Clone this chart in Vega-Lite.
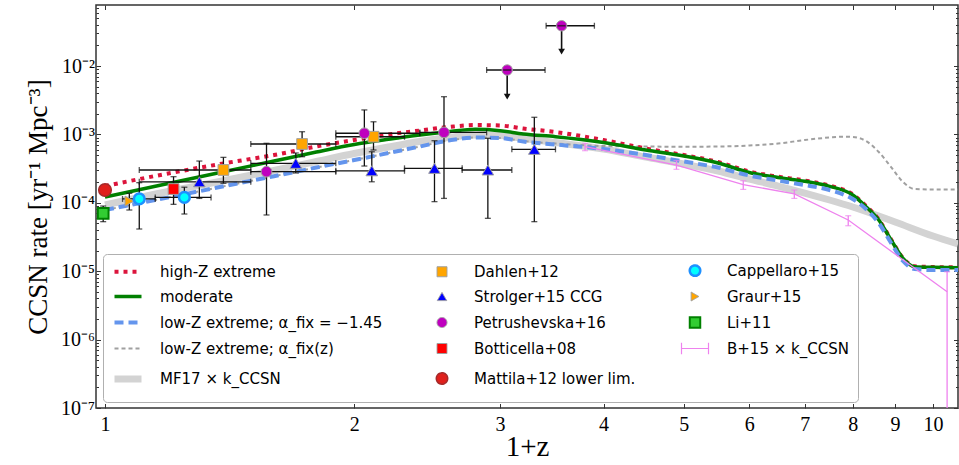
{
  "$schema": "https://vega.github.io/schema/vega-lite/v6.json",
  "width": 862,
  "height": 403,
  "autosize": {"type": "none"},
  "padding": {"left": 96, "top": 5, "right": 1, "bottom": 57},
  "background": "white",
  "config": {
    "view": {"stroke": "#333333", "strokeWidth": 1.5},
    "axis": {"grid": false, "domain": false, "tickColor": "#333333", "tickWidth": 1, "labelColor": "black", "titleColor": "black", "labelFont": "Liberation Serif", "titleFont": "Liberation Serif", "titleFontWeight": "normal"},
    "legend": {
      "orient": "none", "legendX": 7, "legendY": 249, "columns": 3, "columnPadding": 43, "rowPadding": 8, "padding": 9,
      "strokeColor": "#b0b0b0", "fillColor": "white", "cornerRadius": 4,
      "labelFont": "DejaVu Sans", "labelFontSize": 15, "labelColor": "black", "labelLimit": 500,
      "labelOffset": 24, "symbolOffset": 8
    }
  },
  "datasets": {
    "curves": [
      {"series": "high-Z extreme", "x": 1.0, "y": 1.760e-4},
      {"series": "high-Z extreme", "x": 1.2, "y": 2.727e-4},
      {"series": "high-Z extreme", "x": 1.4, "y": 3.818e-4},
      {"series": "high-Z extreme", "x": 1.6, "y": 4.998e-4},
      {"series": "high-Z extreme", "x": 1.8, "y": 6.653e-4},
      {"series": "high-Z extreme", "x": 2.0, "y": 8.282e-4},
      {"series": "high-Z extreme", "x": 2.2, "y": 9.966e-4},
      {"series": "high-Z extreme", "x": 2.4, "y": 1.140e-3},
      {"series": "high-Z extreme", "x": 2.6, "y": 1.283e-3},
      {"series": "high-Z extreme", "x": 2.8, "y": 1.372e-3},
      {"series": "high-Z extreme", "x": 3.0, "y": 1.349e-3},
      {"series": "high-Z extreme", "x": 3.2, "y": 1.220e-3},
      {"series": "high-Z extreme", "x": 3.5, "y": 1.084e-3},
      {"series": "high-Z extreme", "x": 4.0, "y": 8.282e-4},
      {"series": "high-Z extreme", "x": 4.5, "y": 6.220e-4},
      {"series": "high-Z extreme", "x": 5.0, "y": 4.998e-4},
      {"series": "high-Z extreme", "x": 5.5, "y": 3.949e-4},
      {"series": "high-Z extreme", "x": 6.0, "y": 2.868e-4},
      {"series": "high-Z extreme", "x": 6.5, "y": 2.408e-4},
      {"series": "high-Z extreme", "x": 7.0, "y": 2.118e-4},
      {"series": "high-Z extreme", "x": 7.5, "y": 1.790e-4},
      {"series": "high-Z extreme", "x": 8.0, "y": 1.331e-4},
      {"series": "high-Z extreme", "x": 8.3, "y": 8.98e-5},
      {"series": "high-Z extreme", "x": 8.6, "y": 5.70e-5},
      {"series": "high-Z extreme", "x": 8.9, "y": 2.907e-5},
      {"series": "high-Z extreme", "x": 9.2, "y": 1.560e-5},
      {"series": "high-Z extreme", "x": 9.5, "y": 1.179e-5},
      {"series": "high-Z extreme", "x": 10.0, "y": 1.151e-5},
      {"series": "high-Z extreme", "x": 10.72, "y": 1.140e-5},
      {"series": "moderate", "x": 1.0, "y": 1.216e-4},
      {"series": "moderate", "x": 1.2, "y": 1.948e-4},
      {"series": "moderate", "x": 1.4, "y": 2.897e-4},
      {"series": "moderate", "x": 1.6, "y": 4.083e-4},
      {"series": "moderate", "x": 1.8, "y": 5.528e-4},
      {"series": "moderate", "x": 2.0, "y": 7.117e-4},
      {"series": "moderate", "x": 2.2, "y": 8.482e-4},
      {"series": "moderate", "x": 2.4, "y": 9.800e-4},
      {"series": "moderate", "x": 2.6, "y": 1.095e-3},
      {"series": "moderate", "x": 2.8, "y": 1.188e-3},
      {"series": "moderate", "x": 3.0, "y": 1.133e-3},
      {"series": "moderate", "x": 3.2, "y": 1.013e-3},
      {"series": "moderate", "x": 3.5, "y": 9.254e-4},
      {"series": "moderate", "x": 4.0, "y": 7.612e-4},
      {"series": "moderate", "x": 4.5, "y": 5.913e-4},
      {"series": "moderate", "x": 5.0, "y": 4.832e-4},
      {"series": "moderate", "x": 5.5, "y": 3.818e-4},
      {"series": "moderate", "x": 6.0, "y": 2.773e-4},
      {"series": "moderate", "x": 6.5, "y": 2.344e-4},
      {"series": "moderate", "x": 7.0, "y": 2.062e-4},
      {"series": "moderate", "x": 7.5, "y": 1.742e-4},
      {"series": "moderate", "x": 8.0, "y": 1.300e-4},
      {"series": "moderate", "x": 8.3, "y": 8.77e-5},
      {"series": "moderate", "x": 8.6, "y": 5.603e-5},
      {"series": "moderate", "x": 8.9, "y": 2.858e-5},
      {"series": "moderate", "x": 9.2, "y": 1.544e-5},
      {"series": "moderate", "x": 9.5, "y": 1.163e-5},
      {"series": "moderate", "x": 10.0, "y": 1.14e-5},
      {"series": "moderate", "x": 10.72, "y": 1.125e-5},
      {"series": "low-Z extreme; α_fix = −1.45", "x": 1.0, "y": 7.847e-5},
      {"series": "low-Z extreme; α_fix = −1.45", "x": 1.2, "y": 1.216e-4},
      {"series": "low-Z extreme; α_fix = −1.45", "x": 1.4, "y": 1.772e-4},
      {"series": "low-Z extreme; α_fix = −1.45", "x": 1.6, "y": 2.448e-4},
      {"series": "low-Z extreme; α_fix = −1.45", "x": 1.8, "y": 3.281e-4},
      {"series": "low-Z extreme; α_fix = −1.45", "x": 2.0, "y": 4.223e-4},
      {"series": "low-Z extreme; α_fix = −1.45", "x": 2.2, "y": 5.345e-4},
      {"series": "low-Z extreme; α_fix = −1.45", "x": 2.4, "y": 6.653e-4},
      {"series": "low-Z extreme; α_fix = −1.45", "x": 2.6, "y": 8.144e-4},
      {"series": "low-Z extreme; α_fix = −1.45", "x": 2.8, "y": 9.009e-4},
      {"series": "low-Z extreme; α_fix = −1.45", "x": 3.0, "y": 8.858e-4},
      {"series": "low-Z extreme; α_fix = −1.45", "x": 3.2, "y": 7.872e-4},
      {"series": "low-Z extreme; α_fix = −1.45", "x": 3.5, "y": 7.117e-4},
      {"series": "low-Z extreme; α_fix = −1.45", "x": 4.0, "y": 6.116e-4},
      {"series": "low-Z extreme; α_fix = −1.45", "x": 4.5, "y": 4.998e-4},
      {"series": "low-Z extreme; α_fix = −1.45", "x": 5.0, "y": 4.016e-4},
      {"series": "low-Z extreme; α_fix = −1.45", "x": 5.5, "y": 3.281e-4},
      {"series": "low-Z extreme; α_fix = −1.45", "x": 6.0, "y": 2.507e-4},
      {"series": "low-Z extreme; α_fix = −1.45", "x": 6.5, "y": 2.118e-4},
      {"series": "low-Z extreme; α_fix = −1.45", "x": 7.0, "y": 1.820e-4},
      {"series": "low-Z extreme; α_fix = −1.45", "x": 7.5, "y": 1.538e-4},
      {"series": "low-Z extreme; α_fix = −1.45", "x": 8.0, "y": 1.136e-4},
      {"series": "low-Z extreme; α_fix = −1.45", "x": 8.3, "y": 8.117e-5},
      {"series": "low-Z extreme; α_fix = −1.45", "x": 8.6, "y": 5.066e-5},
      {"series": "low-Z extreme; α_fix = −1.45", "x": 8.9, "y": 2.584e-5},
      {"series": "low-Z extreme; α_fix = −1.45", "x": 9.2, "y": 1.409e-5},
      {"series": "low-Z extreme; α_fix = −1.45", "x": 9.5, "y": 1.077e-5},
      {"series": "low-Z extreme; α_fix = −1.45", "x": 10.0, "y": 1.041e-5},
      {"series": "low-Z extreme; α_fix = −1.45", "x": 10.72, "y": 1.041e-5},
      {"series": "low-Z extreme; α_fix(z)", "x": 1.0, "y": 7.847e-5},
      {"series": "low-Z extreme; α_fix(z)", "x": 1.2, "y": 1.216e-4},
      {"series": "low-Z extreme; α_fix(z)", "x": 1.4, "y": 1.772e-4},
      {"series": "low-Z extreme; α_fix(z)", "x": 1.6, "y": 2.448e-4},
      {"series": "low-Z extreme; α_fix(z)", "x": 1.8, "y": 3.281e-4},
      {"series": "low-Z extreme; α_fix(z)", "x": 2.0, "y": 4.223e-4},
      {"series": "low-Z extreme; α_fix(z)", "x": 2.2, "y": 5.345e-4},
      {"series": "low-Z extreme; α_fix(z)", "x": 2.4, "y": 6.653e-4},
      {"series": "low-Z extreme; α_fix(z)", "x": 2.6, "y": 8.144e-4},
      {"series": "low-Z extreme; α_fix(z)", "x": 2.8, "y": 9.009e-4},
      {"series": "low-Z extreme; α_fix(z)", "x": 3.0, "y": 8.858e-4},
      {"series": "low-Z extreme; α_fix(z)", "x": 3.2, "y": 8.006e-4},
      {"series": "low-Z extreme; α_fix(z)", "x": 3.5, "y": 7.361e-4},
      {"series": "low-Z extreme; α_fix(z)", "x": 4.0, "y": 6.766e-4},
      {"series": "low-Z extreme; α_fix(z)", "x": 4.5, "y": 6.653e-4},
      {"series": "low-Z extreme; α_fix(z)", "x": 5.0, "y": 6.609e-4},
      {"series": "low-Z extreme; α_fix(z)", "x": 5.5, "y": 6.653e-4},
      {"series": "low-Z extreme; α_fix(z)", "x": 6.0, "y": 6.881e-4},
      {"series": "low-Z extreme; α_fix(z)", "x": 6.5, "y": 7.361e-4},
      {"series": "low-Z extreme; α_fix(z)", "x": 7.0, "y": 8.282e-4},
      {"series": "low-Z extreme; α_fix(z)", "x": 7.5, "y": 9.009e-4},
      {"series": "low-Z extreme; α_fix(z)", "x": 7.8, "y": 9.254e-4},
      {"series": "low-Z extreme; α_fix(z)", "x": 8.0, "y": 9.16e-4},
      {"series": "low-Z extreme; α_fix(z)", "x": 8.3, "y": 8.006e-4},
      {"series": "low-Z extreme; α_fix(z)", "x": 8.6, "y": 5.528e-4},
      {"series": "low-Z extreme; α_fix(z)", "x": 8.9, "y": 3.337e-4},
      {"series": "low-Z extreme; α_fix(z)", "x": 9.2, "y": 2.014e-4},
      {"series": "low-Z extreme; α_fix(z)", "x": 9.5, "y": 1.591e-4},
      {"series": "low-Z extreme; α_fix(z)", "x": 10.0, "y": 1.565e-4},
      {"series": "low-Z extreme; α_fix(z)", "x": 10.72, "y": 1.565e-4},
      {"series": "MF17 × k_CCSN", "x": 1.0, "y": 9.286e-5},
      {"series": "MF17 × k_CCSN", "x": 1.2, "y": 1.488e-4},
      {"series": "MF17 × k_CCSN", "x": 1.4, "y": 2.133e-4},
      {"series": "MF17 × k_CCSN", "x": 1.6, "y": 2.977e-4},
      {"series": "MF17 × k_CCSN", "x": 1.8, "y": 4.016e-4},
      {"series": "MF17 × k_CCSN", "x": 2.0, "y": 5.256e-4},
      {"series": "MF17 × k_CCSN", "x": 2.2, "y": 6.543e-4},
      {"series": "MF17 × k_CCSN", "x": 2.4, "y": 7.872e-4},
      {"series": "MF17 × k_CCSN", "x": 2.6, "y": 9.009e-4},
      {"series": "MF17 × k_CCSN", "x": 2.8, "y": 9.800e-4},
      {"series": "MF17 × k_CCSN", "x": 3.0, "y": 9.636e-4},
      {"series": "MF17 × k_CCSN", "x": 3.2, "y": 8.711e-4},
      {"series": "MF17 × k_CCSN", "x": 3.5, "y": 7.612e-4},
      {"series": "MF17 × k_CCSN", "x": 4.0, "y": 6.116e-4},
      {"series": "MF17 × k_CCSN", "x": 4.5, "y": 4.673e-4},
      {"series": "MF17 × k_CCSN", "x": 5.0, "y": 3.692e-4},
      {"series": "MF17 × k_CCSN", "x": 5.5, "y": 2.917e-4},
      {"series": "MF17 × k_CCSN", "x": 6.0, "y": 2.228e-4},
      {"series": "MF17 × k_CCSN", "x": 6.5, "y": 1.760e-4},
      {"series": "MF17 × k_CCSN", "x": 7.0, "y": 1.390e-4},
      {"series": "MF17 × k_CCSN", "x": 7.5, "y": 1.099e-4},
      {"series": "MF17 × k_CCSN", "x": 8.0, "y": 8.68e-5},
      {"series": "MF17 × k_CCSN", "x": 9.0, "y": 5.24e-5},
      {"series": "MF17 × k_CCSN", "x": 10.0, "y": 3.27e-5},
      {"series": "MF17 × k_CCSN", "x": 10.72, "y": 2.5e-5}
    ],
    "points": [
      {"series": "Li+11", "x": 0.995, "y": 7.0e-5, "xlo": null, "xhi": null, "ylo": 5.3e-5, "yhi": 8.97e-5},
      {"series": "Mattila+12 lower lim.", "x": 1.0, "y": 1.54e-4, "xlo": null, "xhi": null, "ylo": null, "yhi": null},
      {"series": "Graur+15", "x": 1.07, "y": 1.06e-4, "xlo": null, "xhi": null, "ylo": 7.85e-5, "yhi": 1.38e-4},
      {"series": "Cappellaro+15", "x": 1.10, "y": 1.14e-4, "xlo": 1.05, "xhi": 1.15, "ylo": 4.14e-5, "yhi": 1.97e-4},
      {"series": "Cappellaro+15", "x": 1.247, "y": 1.20e-4, "xlo": 1.15, "xhi": 1.343, "ylo": 6.86e-5, "yhi": 1.69e-4},
      {"series": "Botticella+08", "x": 1.21, "y": 1.59e-4, "xlo": null, "xhi": null, "ylo": 9.5e-5, "yhi": 2.41e-4},
      {"series": "Strolger+15 CCG", "x": 1.3, "y": 2.03e-4, "xlo": 1.1, "xhi": 1.5, "ylo": 1.16e-4, "yhi": 4.08e-4},
      {"series": "Strolger+15 CCG", "x": 1.7, "y": 3.78e-4, "xlo": 1.5, "xhi": 1.9, "ylo": 2.73e-4, "yhi": 5.35e-4},
      {"series": "Strolger+15 CCG", "x": 2.1, "y": 2.94e-4, "xlo": 1.9, "xhi": 2.3, "ylo": 2.03e-4, "yhi": 5.58e-4},
      {"series": "Strolger+15 CCG", "x": 2.5, "y": 3.19e-4, "xlo": 2.3, "xhi": 2.7, "ylo": 1.04e-4, "yhi": 8.09e-4},
      {"series": "Strolger+15 CCG", "x": 2.9, "y": 3.02e-4, "xlo": 2.7, "xhi": 3.1, "ylo": 5.93e-5, "yhi": 8.77e-4},
      {"series": "Strolger+15 CCG", "x": 3.3, "y": 6.05e-4, "xlo": 3.1, "xhi": 3.5, "ylo": 5.30e-5, "yhi": 1.78e-3},
      {"series": "Petrushevska+16", "x": 1.567, "y": 2.85e-4, "xlo": 1.5, "xhi": 1.9, "ylo": 6.64e-5, "yhi": 7.41e-4},
      {"series": "Petrushevska+16", "x": 2.057, "y": 1.04e-3, "xlo": 1.9, "xhi": 2.4, "ylo": 3.45e-4, "yhi": 2.28e-3},
      {"series": "Petrushevska+16", "x": 2.567, "y": 1.07e-3, "xlo": 2.4, "xhi": 2.89, "ylo": 1.16e-4, "yhi": 3.56e-3},
      {"series": "Dahlen+12", "x": 1.39, "y": 3.02e-4, "xlo": 1.1, "xhi": 1.5, "ylo": 1.93e-4, "yhi": 4.62e-4},
      {"series": "Dahlen+12", "x": 1.73, "y": 7.24e-4, "xlo": 1.5, "xhi": 1.9, "ylo": 4.72e-4, "yhi": 1.095e-3},
      {"series": "Dahlen+12", "x": 2.11, "y": 9.25e-4, "xlo": 1.9, "xhi": 2.3, "ylo": 5.92e-4, "yhi": 1.53e-3}
    ],
    "limits": [
      {"x": 3.06, "y": 8.74e-3, "xlo": 2.89, "xhi": 3.40, "yarrow": 3.56e-3},
      {"x": 3.56, "y": 0.0388, "xlo": 3.41, "xhi": 3.90, "yarrow": 0.0162}
    ],
    "b15": [
      {"series": "B+15 × k_CCSN", "x": 3.8, "y": 6.65e-4, "ylo": 5.78e-4, "yhi": 7.41e-4},
      {"series": "B+15 × k_CCSN", "x": 4.9, "y": 3.57e-4, "ylo": 3.09e-4, "yhi": 4.13e-4},
      {"series": "B+15 × k_CCSN", "x": 5.9, "y": 1.85e-4, "ylo": 1.57e-4, "yhi": 2.10e-4},
      {"series": "B+15 × k_CCSN", "x": 6.8, "y": 1.35e-4, "ylo": 1.16e-4, "yhi": 1.54e-4},
      {"series": "B+15 × k_CCSN", "x": 7.9, "y": 5.6e-5, "ylo": 4.62e-5, "yhi": 6.47e-5},
      {"series": "B+15 × k_CCSN", "x": 10.4, "y": 5.0e-6, "ylo": 1e-9, "yhi": 9.8e-6}
    ]
  },
  "layer": [
    {
      "data": {"name": "curves"},
      "encoding": {
        "x": {"field": "x", "type": "quantitative", "scale": {"type": "log", "domain": [0.9753, 10.72], "nice": false}, "axis": null},
        "y": {"field": "y", "type": "quantitative", "scale": {"type": "log", "domain": [1e-7, 0.078], "nice": false}, "axis": null}
      },
      "layer": [
        {"transform": [{"filter": {"field": "series", "equal": "MF17 × k_CCSN"}}], "mark": {"type": "line", "interpolate": "monotone", "clip": true, "color": "#D3D3D3", "strokeWidth": 7}},
        {"transform": [{"filter": {"field": "series", "equal": "low-Z extreme; α_fix(z)"}}], "mark": {"type": "line", "interpolate": "monotone", "clip": true, "color": "#A0A0A0", "strokeWidth": 2, "strokeDash": [4, 3]}},
        {"transform": [{"filter": {"field": "series", "equal": "high-Z extreme"}}], "mark": {"type": "line", "interpolate": "monotone", "clip": true, "color": "#DC143C", "strokeWidth": 4, "strokeDash": [4, 5]}},
        {"transform": [{"filter": {"field": "series", "equal": "moderate"}}], "mark": {"type": "line", "interpolate": "monotone", "clip": true, "color": "#008000", "strokeWidth": 3.5}},
        {"transform": [{"filter": {"field": "series", "equal": "low-Z extreme; α_fix = −1.45"}}], "mark": {"type": "line", "interpolate": "monotone", "clip": true, "color": "#6495ED", "strokeWidth": 4, "strokeDash": [9, 5]}}
      ]
    },
    {
      "data": {"name": "b15"},
      "encoding": {
        "x": {"field": "x", "type": "quantitative", "scale": {"type": "log", "domain": [0.9753, 10.72], "nice": false}, "axis": null}
      },
      "layer": [
        {
          "mark": {"type": "line", "clip": true, "color": "#EE82EE", "strokeWidth": 1.3},
          "encoding": {"y": {"field": "y", "type": "quantitative", "scale": {"type": "log", "domain": [1e-7, 0.078], "nice": false}, "axis": null}}
        },
        {
          "mark": {"type": "rule", "color": "#EE82EE", "strokeWidth": 1.3, "clip": true},
          "encoding": {
            "y": {"field": "ylo", "type": "quantitative", "scale": {"type": "log", "domain": [1e-7, 0.078], "nice": false}, "axis": null},
            "y2": {"field": "yhi"}
          }
        },
        {
          "mark": {"type": "tick", "orient": "horizontal", "color": "#EE82EE", "size": 6, "thickness": 1.2, "clip": true},
          "encoding": {"y": {"field": "yhi", "type": "quantitative", "scale": {"type": "log", "domain": [1e-7, 0.078], "nice": false}, "axis": null}}
        },
        {
          "mark": {"type": "tick", "orient": "horizontal", "color": "#EE82EE", "size": 6, "thickness": 1.2, "clip": true},
          "encoding": {"y": {"field": "ylo", "type": "quantitative", "scale": {"type": "log", "domain": [1e-7, 0.078], "nice": false}, "axis": null}}
        }
      ]
    },
    {
      "data": {"name": "points"},
      "layer": [
        {
          "transform": [{"filter": "datum.xlo != null"}],
          "mark": {"type": "rule", "color": "#111111", "strokeWidth": 1.3},
          "encoding": {
            "x": {"field": "xlo", "type": "quantitative", "scale": {"type": "log", "domain": [0.9753, 10.72], "nice": false}, "axis": null},
            "x2": {"field": "xhi"},
            "y": {"field": "y", "type": "quantitative", "scale": {"type": "log", "domain": [1e-7, 0.078], "nice": false}, "axis": null}
          }
        },
        {
          "transform": [{"filter": "datum.xlo != null"}],
          "mark": {"type": "tick", "orient": "vertical", "color": "#111111", "size": 6, "thickness": 1.3},
          "encoding": {
            "x": {"field": "xlo", "type": "quantitative", "scale": {"type": "log", "domain": [0.9753, 10.72], "nice": false}, "axis": null},
            "y": {"field": "y", "type": "quantitative", "scale": {"type": "log", "domain": [1e-7, 0.078], "nice": false}, "axis": null}
          }
        },
        {
          "transform": [{"filter": "datum.xhi != null"}],
          "mark": {"type": "tick", "orient": "vertical", "color": "#111111", "size": 6, "thickness": 1.3},
          "encoding": {
            "x": {"field": "xhi", "type": "quantitative", "scale": {"type": "log", "domain": [0.9753, 10.72], "nice": false}, "axis": null},
            "y": {"field": "y", "type": "quantitative", "scale": {"type": "log", "domain": [1e-7, 0.078], "nice": false}, "axis": null}
          }
        },
        {
          "transform": [{"filter": "datum.ylo != null"}],
          "mark": {"type": "rule", "color": "#111111", "strokeWidth": 1.3},
          "encoding": {
            "x": {"field": "x", "type": "quantitative", "scale": {"type": "log", "domain": [0.9753, 10.72], "nice": false}, "axis": null},
            "y": {"field": "ylo", "type": "quantitative", "scale": {"type": "log", "domain": [1e-7, 0.078], "nice": false}, "axis": null},
            "y2": {"field": "yhi"}
          }
        },
        {
          "transform": [{"filter": "datum.ylo != null"}],
          "mark": {"type": "tick", "orient": "horizontal", "color": "#111111", "size": 6, "thickness": 1.3},
          "encoding": {
            "x": {"field": "x", "type": "quantitative", "scale": {"type": "log", "domain": [0.9753, 10.72], "nice": false}, "axis": null},
            "y": {"field": "ylo", "type": "quantitative", "scale": {"type": "log", "domain": [1e-7, 0.078], "nice": false}, "axis": null}
          }
        },
        {
          "transform": [{"filter": "datum.yhi != null"}],
          "mark": {"type": "tick", "orient": "horizontal", "color": "#111111", "size": 6, "thickness": 1.3},
          "encoding": {
            "x": {"field": "x", "type": "quantitative", "scale": {"type": "log", "domain": [0.9753, 10.72], "nice": false}, "axis": null},
            "y": {"field": "yhi", "type": "quantitative", "scale": {"type": "log", "domain": [1e-7, 0.078], "nice": false}, "axis": null}
          }
        }
      ]
    },
    {
      "data": {"name": "limits"},
      "encoding": {
        "x": {"field": "x", "type": "quantitative", "scale": {"type": "log", "domain": [0.9753, 10.72], "nice": false}, "axis": null},
        "y": {"field": "y", "type": "quantitative", "scale": {"type": "log", "domain": [1e-7, 0.078], "nice": false}, "axis": null}
      },
      "layer": [
        {
          "mark": {"type": "rule", "color": "#111111", "strokeWidth": 1.3},
          "encoding": {
            "x": {"field": "xlo", "type": "quantitative", "scale": {"type": "log", "domain": [0.9753, 10.72], "nice": false}, "axis": null},
            "x2": {"field": "xhi"}
          }
        },
        {
          "mark": {"type": "tick", "orient": "vertical", "color": "#111111", "size": 6, "thickness": 1.3},
          "encoding": {"x": {"field": "xlo", "type": "quantitative", "scale": {"type": "log", "domain": [0.9753, 10.72], "nice": false}, "axis": null}}
        },
        {
          "mark": {"type": "tick", "orient": "vertical", "color": "#111111", "size": 6, "thickness": 1.3},
          "encoding": {"x": {"field": "xhi", "type": "quantitative", "scale": {"type": "log", "domain": [0.9753, 10.72], "nice": false}, "axis": null}}
        },
        {
          "mark": {"type": "rule", "color": "#111111", "strokeWidth": 1.6},
          "encoding": {"y2": {"field": "yarrow"}}
        },
        {
          "mark": {"type": "point", "shape": "triangle-down", "filled": true, "color": "#111111", "size": 45, "opacity": 1},
          "encoding": {"y": {"field": "yarrow", "type": "quantitative", "scale": {"type": "log", "domain": [1e-7, 0.078], "nice": false}, "axis": null}}
        },
        {
          "mark": {"type": "point", "shape": "circle", "filled": true, "fill": "#BF00BF", "stroke": "#A0A0A0", "strokeWidth": 1, "size": 110, "opacity": 1}
        },
        {
          "mark": {"type": "tick", "orient": "horizontal", "color": "#111111", "size": 8, "thickness": 1.6}
        }
      ]
    },
    {
      "data": {"name": "points"},
      "encoding": {
        "x": {"field": "x", "type": "quantitative", "scale": {"type": "log", "domain": [0.9753, 10.72], "nice": false}, "axis": null},
        "y": {"field": "y", "type": "quantitative", "scale": {"type": "log", "domain": [1e-7, 0.078], "nice": false}, "axis": null}
      },
      "layer": [
        {"transform": [{"filter": {"field": "series", "equal": "Dahlen+12"}}], "mark": {"type": "point", "shape": "square", "filled": true, "opacity": 1, "fill": "#FFA500", "stroke": "#A0A0A0", "strokeWidth": 1, "size": 115}},
        {"transform": [{"filter": {"field": "series", "equal": "Strolger+15 CCG"}}], "mark": {"type": "point", "shape": "triangle-up", "filled": true, "opacity": 1, "fill": "#0000FF", "stroke": "#A0A0A0", "strokeWidth": 1, "size": 135}},
        {"transform": [{"filter": {"field": "series", "equal": "Petrushevska+16"}}], "mark": {"type": "point", "shape": "circle", "filled": true, "opacity": 1, "fill": "#BF00BF", "stroke": "#A0A0A0", "strokeWidth": 1, "size": 115}},
        {"transform": [{"filter": {"field": "series", "equal": "Botticella+08"}}], "mark": {"type": "point", "shape": "square", "filled": true, "opacity": 1, "fill": "#FF0000", "stroke": "#A0A0A0", "strokeWidth": 1, "size": 115}},
        {"transform": [{"filter": {"field": "series", "equal": "Graur+15"}}], "mark": {"type": "point", "shape": "triangle-right", "filled": true, "opacity": 1, "fill": "#FFA500", "stroke": "#A0A0A0", "strokeWidth": 1, "size": 100}},
        {"transform": [{"filter": {"field": "series", "equal": "Cappellaro+15"}}], "mark": {"type": "point", "shape": "circle", "filled": true, "opacity": 1, "fill": "#00FFFF", "stroke": "#1E90FF", "strokeWidth": 2.5, "size": 115}},
        {"transform": [{"filter": {"field": "series", "equal": "Li+11"}}], "mark": {"type": "point", "shape": "square", "filled": true, "opacity": 1, "fill": "#32CD32", "stroke": "#008000", "strokeWidth": 2, "size": 115}},
        {"transform": [{"filter": {"field": "series", "equal": "Mattila+12 lower lim."}}], "mark": {"type": "point", "shape": "circle", "filled": true, "opacity": 1, "fill": "#E0201C", "stroke": "#A52A2A", "strokeWidth": 1.5, "size": 160}}
      ]
    },
    {
      "data": {"name": "points"},
      "transform": [{"filter": "false"}],
      "mark": {"type": "point", "filled": true, "opacity": 1},
      "encoding": {
        "x": {"field": "x", "type": "quantitative", "scale": {"type": "log", "domain": [0.9753, 10.72], "nice": false}, "axis": null},
        "y": {"field": "y", "type": "quantitative", "scale": {"type": "log", "domain": [1e-7, 0.078], "nice": false}, "axis": null},
        "fill": {"field": "series", "type": "nominal", "title": null, "legend": {"labelExpr": "datum.label == 'Cappellaro+15' ? datum.label + '\u00a0\u00a0\u00a0\u00a0\u00a0\u00a0\u00a0\u00a0\u00a0\u00a0\u00a0' : datum.label"}, "scale": {"domain": ["high-Z extreme","moderate","low-Z extreme; α_fix = −1.45","low-Z extreme; α_fix(z)","MF17 × k_CCSN","Dahlen+12","Strolger+15 CCG","Petrushevska+16","Botticella+08","Mattila+12 lower lim.","Cappellaro+15","Graur+15","Li+11","B+15 × k_CCSN"], "range": ["transparent","transparent","transparent","transparent","transparent","#FFA500","#0000FF","#BF00BF","#FF0000","#E0201C","#00FFFF","#FFA500","#32CD32","transparent"]}},
        "stroke": {"field": "series", "type": "nominal", "title": null, "scale": {"domain": ["high-Z extreme","moderate","low-Z extreme; α_fix = −1.45","low-Z extreme; α_fix(z)","MF17 × k_CCSN","Dahlen+12","Strolger+15 CCG","Petrushevska+16","Botticella+08","Mattila+12 lower lim.","Cappellaro+15","Graur+15","Li+11","B+15 × k_CCSN"], "range": ["#DC143C","#008000","#6495ED","#A0A0A0","#D3D3D3","#A0A0A0","#A0A0A0","#A0A0A0","#A0A0A0","#A52A2A","#1E90FF","#A0A0A0","#008000","#EE82EE"]}},
        "strokeDash": {"field": "series", "type": "nominal", "title": null, "scale": {"domain": ["high-Z extreme","moderate","low-Z extreme; α_fix = −1.45","low-Z extreme; α_fix(z)","MF17 × k_CCSN","Dahlen+12","Strolger+15 CCG","Petrushevska+16","Botticella+08","Mattila+12 lower lim.","Cappellaro+15","Graur+15","Li+11","B+15 × k_CCSN"], "range": [[4,5],[1,0],[9,5],[4,3],[1,0],[1,0],[1,0],[1,0],[1,0],[1,0],[1,0],[1,0],[1,0],[1,0]]}},
        "strokeWidth": {"field": "series", "type": "nominal", "title": null, "scale": {"type": "ordinal", "domain": ["high-Z extreme","moderate","low-Z extreme; α_fix = −1.45","low-Z extreme; α_fix(z)","MF17 × k_CCSN","Dahlen+12","Strolger+15 CCG","Petrushevska+16","Botticella+08","Mattila+12 lower lim.","Cappellaro+15","Graur+15","Li+11","B+15 × k_CCSN"], "range": [4,3.5,4,2,7,1,1,1,1,1.5,2.5,1,2,1.2]}},
        "shape": {"field": "series", "type": "nominal", "title": null, "scale": {"domain": ["high-Z extreme","moderate","low-Z extreme; α_fix = −1.45","low-Z extreme; α_fix(z)","MF17 × k_CCSN","Dahlen+12","Strolger+15 CCG","Petrushevska+16","Botticella+08","Mattila+12 lower lim.","Cappellaro+15","Graur+15","Li+11","B+15 × k_CCSN"], "range": ["M-3,0H3","M-3,0H3","M-3,0H3","M-3,0H3","M-3,0H3","square","triangle-up","circle","square","circle","circle","triangle-right","square","M-3,-1.3V1.3M-3,0H3M3,-1.3V1.3"]}},
        "size": {"field": "series", "type": "nominal", "title": null, "scale": {"type": "ordinal", "domain": ["high-Z extreme","moderate","low-Z extreme; α_fix = −1.45","low-Z extreme; α_fix(z)","MF17 × k_CCSN","Dahlen+12","Strolger+15 CCG","Petrushevska+16","Botticella+08","Mattila+12 lower lim.","Cappellaro+15","Graur+15","Li+11","B+15 × k_CCSN"], "range": [81,81,81,81,81,100,90,100,100,130,110,80,110,81]}}
      }
    },
    {
      "data": {"name": "points"},
      "mark": {"type": "point", "opacity": 0},
      "encoding": {
        "x": {"field": "x", "type": "quantitative", "scale": {"type": "log", "domain": [0.9753, 10.72], "nice": false},
              "axis": {"orient": "bottom", "values": [1,2,3,4,5,6,7,8,9,10], "format": "d", "title": "1+z", "titleFontSize": 29, "titlePadding": -2, "labelFontSize": 20, "labelPadding": 11, "tickSize": -4.5, "labelFlush": false, "labelOverlap": false}},
        "y": {"field": "y", "type": "quantitative", "scale": {"type": "log", "domain": [1e-7, 0.078], "nice": false},
              "axis": {"orient": "left", "values": [1e-7,1e-6,1e-5,1e-4,1e-3,1e-2], "labelExpr": "'10' + ['⁻⁷','⁻⁶','⁻⁵','⁻⁴','⁻³','⁻²','⁻¹'][round(log(datum.value)/LN10)+7]", "title": "CCSN rate [yr⁻¹ Mpc⁻³]", "titleFontSize": 27, "titlePadding": 8, "labelFontSize": 20, "labelPadding": 6, "tickSize": -4.5, "labelFlush": false, "labelOverlap": false}}
      }
    },
    {
      "data": {"name": "points"},
      "mark": {"type": "point", "opacity": 0},
      "encoding": {
        "x": {"field": "x", "type": "quantitative", "scale": {"type": "log", "domain": [0.9753, 10.72], "nice": false},
              "axis": {"orient": "top", "values": [1,2,3,4,5,6,7,8,9,10], "labels": false, "title": null, "tickSize": -4.5}},
        "y": {"field": "y", "type": "quantitative", "scale": {"type": "log", "domain": [1e-7, 0.078], "nice": false},
              "axis": {"orient": "right", "values": [1e-7,1e-6,1e-5,1e-4,1e-3,1e-2], "labels": false, "title": null, "tickSize": -4.5}}
      }
    },
    {
      "data": {"name": "points"},
      "mark": {"type": "point", "opacity": 0},
      "encoding": {
        "x": {"field": "x", "type": "quantitative", "scale": {"type": "log", "domain": [0.9753, 10.72], "nice": false}, "axis": null},
        "y": {"field": "y", "type": "quantitative", "scale": {"type": "log", "domain": [1e-7, 0.078], "nice": false},
              "axis": {"orient": "left", "values": [2e-7,3e-7,4e-7,5e-7,6e-7,7e-7,8e-7,9e-7,2e-6,3e-6,4e-6,5e-6,6e-6,7e-6,8e-6,9e-6,2e-5,3e-5,4e-5,5e-5,6e-5,7e-5,8e-5,9e-5,2e-4,3e-4,4e-4,5e-4,6e-4,7e-4,8e-4,9e-4,2e-3,3e-3,4e-3,5e-3,6e-3,7e-3,8e-3,9e-3,2e-2,3e-2,4e-2,5e-2,6e-2,7e-2], "labels": false, "title": null, "tickSize": -2.5}}
      }
    },
    {
      "data": {"name": "points"},
      "mark": {"type": "point", "opacity": 0},
      "encoding": {
        "x": {"field": "x", "type": "quantitative", "scale": {"type": "log", "domain": [0.9753, 10.72], "nice": false}, "axis": null},
        "y": {"field": "y", "type": "quantitative", "scale": {"type": "log", "domain": [1e-7, 0.078], "nice": false},
              "axis": {"orient": "right", "values": [2e-7,3e-7,4e-7,5e-7,6e-7,7e-7,8e-7,9e-7,2e-6,3e-6,4e-6,5e-6,6e-6,7e-6,8e-6,9e-6,2e-5,3e-5,4e-5,5e-5,6e-5,7e-5,8e-5,9e-5,2e-4,3e-4,4e-4,5e-4,6e-4,7e-4,8e-4,9e-4,2e-3,3e-3,4e-3,5e-3,6e-3,7e-3,8e-3,9e-3,2e-2,3e-2,4e-2,5e-2,6e-2,7e-2], "labels": false, "title": null, "tickSize": -2.5}}
      }
    }
  ],
  "resolve": {"axis": {"x": "independent", "y": "independent"}}
}
